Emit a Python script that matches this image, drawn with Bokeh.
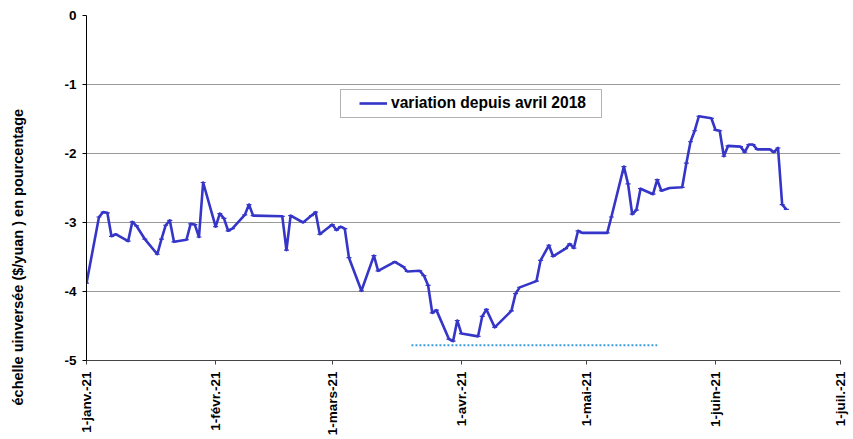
import math
import pandas as pd
from bokeh.plotting import figure
from bokeh.models import (FixedTicker, Legend, LegendItem, BoxAnnotation, Title)
from bokeh.embed import file_html
from bokeh.resources import INLINE

# ---- data ----
dates = [
    "2021-01-01", "2021-01-04", "2021-01-05", "2021-01-06", "2021-01-07", "2021-01-08",
    "2021-01-11", "2021-01-12", "2021-01-13", "2021-01-15", "2021-01-18", "2021-01-19",
    "2021-01-20", "2021-01-21", "2021-01-22", "2021-01-25", "2021-01-26", "2021-01-27",
    "2021-01-28", "2021-01-29", "2021-02-01", "2021-02-02", "2021-02-03", "2021-02-04",
    "2021-02-05", "2021-02-08", "2021-02-09", "2021-02-10", "2021-02-17", "2021-02-18",
    "2021-02-19", "2021-02-22", "2021-02-24", "2021-02-25", "2021-02-26", "2021-03-01",
    "2021-03-02", "2021-03-03", "2021-03-04", "2021-03-05", "2021-03-08", "2021-03-11",
    "2021-03-12", "2021-03-16", "2021-03-18", "2021-03-19", "2021-03-22", "2021-03-23",
    "2021-03-24", "2021-03-25", "2021-03-26", "2021-03-29", "2021-03-30", "2021-03-31",
    "2021-04-01", "2021-04-05", "2021-04-06", "2021-04-07", "2021-04-09", "2021-04-13",
    "2021-04-14", "2021-04-15", "2021-04-19", "2021-04-20", "2021-04-22", "2021-04-23",
    "2021-04-26", "2021-04-27", "2021-04-28", "2021-04-29", "2021-04-30", "2021-05-06",
    "2021-05-07", "2021-05-10", "2021-05-11", "2021-05-12", "2021-05-13", "2021-05-14",
    "2021-05-17", "2021-05-18", "2021-05-19", "2021-05-21", "2021-05-24", "2021-05-25",
    "2021-05-26", "2021-05-27", "2021-05-28", "2021-05-31", "2021-06-01", "2021-06-02",
    "2021-06-03", "2021-06-04", "2021-06-07", "2021-06-08", "2021-06-09", "2021-06-10",
    "2021-06-11", "2021-06-14", "2021-06-15", "2021-06-16", "2021-06-17", "2021-06-18",
]
variation = [
    -3.88, -2.92, -2.85, -2.86, -3.20, -3.17,
    -3.27, -2.99, -3.05, -3.24, -3.46, -3.24,
    -3.04, -2.97, -3.28, -3.25, -3.02, -3.03,
    -3.21, -2.42, -3.06, -2.87, -2.94, -3.12,
    -3.09, -2.89, -2.74, -2.90, -2.91, -3.40,
    -2.90, -3.00, -2.90, -2.85, -3.17, -3.03,
    -3.11, -3.06, -3.09, -3.51, -3.99, -3.48,
    -3.70, -3.57, -3.64, -3.71, -3.70, -3.77,
    -3.91, -4.31, -4.27, -4.69, -4.72, -4.42,
    -4.61, -4.65, -4.36, -4.26, -4.52, -4.28,
    -4.03, -3.94, -3.85, -3.55, -3.33, -3.49,
    -3.38, -3.31, -3.37, -3.12, -3.15, -3.15,
    -2.92, -2.19, -2.44, -2.88, -2.82, -2.51,
    -2.59, -2.38, -2.54, -2.50, -2.49, -2.14,
    -1.83, -1.67, -1.46, -1.49, -1.66, -1.67,
    -2.04, -1.89, -1.90, -1.98, -1.87, -1.87,
    -1.94, -1.94, -1.98, -1.92, -2.74, -2.81,
]
dotted_dates = ["2021-03-20", "2021-05-18"]
dotted_values = [-4.78, -4.78]

x_tick_dates = ["2021-01-01", "2021-02-01", "2021-03-01", "2021-04-01",
                "2021-05-01", "2021-06-01", "2021-07-01"]
x_tick_labels = ["1-janv.-21", "1-févr.-21", "1-mars-21", "1-avr.-21",
                 "1-mai-21", "1-juin-21", "1-juil.-21"]
y_ticks = [0, -1, -2, -3, -4, -5]
y_tick_labels = ["0", "-1", "-2", "-3", "-4", "-5"]

series_label = "variation depuis avril 2018"
y_title = "échelle uinversée ($/yuan ) en pourcentage"

# ---- figure ----
FONT = "Liberation Sans"
xd = pd.to_datetime(dates)
xdot = pd.to_datetime(dotted_dates)
tick_ms = [pd.Timestamp(d).value / 1e6 for d in x_tick_dates]

p = figure(width=850, height=439, x_axis_type="datetime",
           x_range=(pd.Timestamp(x_tick_dates[0]), pd.Timestamp(x_tick_dates[-1])),
           y_range=(-5, 0), output_backend="svg", toolbar_location=None,
           min_border_left=86, min_border_right=10, min_border_top=15,
           min_border_bottom=79)
p.outline_line_color = None
p.background_fill_color = "white"
p.border_fill_color = "white"

# axes
p.xaxis.ticker = FixedTicker(ticks=tick_ms)
p.xaxis.major_label_overrides = {t: l for t, l in zip(tick_ms, x_tick_labels)}
p.xaxis.major_label_orientation = math.pi / 2
p.yaxis.ticker = FixedTicker(ticks=y_ticks)
p.yaxis.major_label_overrides = {t: l for t, l in zip(y_ticks, y_tick_labels)}
for ax in (p.xaxis, p.yaxis):
    ax.major_label_text_font = FONT
    ax.major_label_text_font_style = "bold"
    ax.major_label_text_color = "black"
    ax.major_tick_in = 0
    ax.major_tick_out = 4
    ax.minor_tick_line_color = None
    ax.major_label_standoff = 6
p.xaxis.major_label_standoff = 7
p.xaxis.major_label_text_font_size = "13.5px"
p.yaxis.major_label_text_font_size = "13.5px"
p.yaxis.axis_line_color = "black"
p.yaxis.major_tick_line_color = "black"
p.xaxis.axis_line_color = "#444444"
p.xaxis.major_tick_line_color = "#444444"
# invisible spacer label, pushes the title further left
p.yaxis.axis_label = "\u00a0"
p.yaxis.axis_label_text_font_size = "1px"
p.yaxis.axis_label_standoff = 27

p.xgrid.grid_line_color = None
p.ygrid.ticker = FixedTicker(ticks=y_ticks)
p.ygrid.grid_line_color = "#999999"
p.ygrid.grid_line_width = 1

# data
p.line(xdot, dotted_values, line_color="#3d9de0", line_width=2, line_dash="2 2")
r = p.line(xd, variation, line_color="#3535c8", line_width=2.6, line_join="round")
p.scatter(xd, variation, marker="dash", size=5, line_color="#3535c8", line_width=1.2)

# y title (left panel, shifted down as in the original)
p.add_layout(Title(text=y_title, align="left", offset=-45, standoff=10,
                   text_font=FONT, text_font_style="bold",
                   text_font_size="14.5px", text_color="black"), "left")

# legend box + legend
p.add_layout(BoxAnnotation(left=254, right=515, bottom=243, top=271,
                           left_units="screen", right_units="screen",
                           top_units="screen", bottom_units="screen",
                           fill_color="white", fill_alpha=1.0,
                           line_color="black", line_width=1, level="overlay"))
legend = Legend(items=[LegendItem(label=series_label, renderers=[r])],
                location=(273, 248), padding=0, margin=0, spacing=0,
                glyph_width=28, glyph_height=16, label_standoff=4,
                label_text_font=FONT, label_text_font_style="bold",
                label_text_font_size="15.6px", label_text_color="black",
                border_line_alpha=0, background_fill_alpha=0)
p.add_layout(legend)

open("out.html", "w").write(file_html(p, INLINE))
